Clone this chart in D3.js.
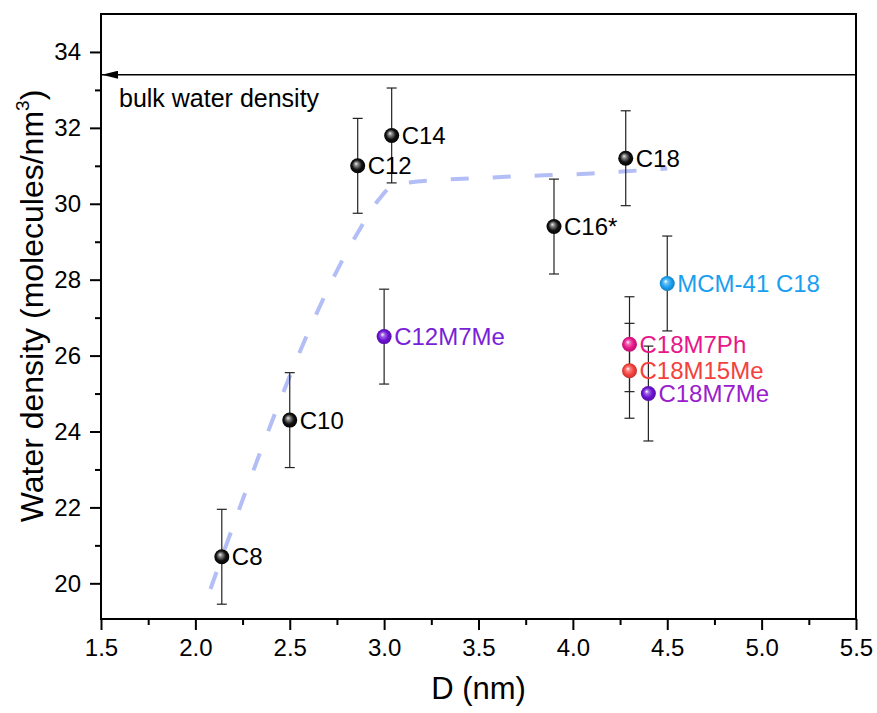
<!DOCTYPE html>
<html>
<head>
<meta charset="utf-8">
<script src="https://cdn.jsdelivr.net/npm/d3@7"></script>
<style>
  html, body { margin: 0; padding: 0; background: #fff; }
  svg { display: block; font-family: "Liberation Sans", Arial, sans-serif; }
</style>
</head>
<body>
<svg id="chart" width="877" height="713"></svg>
<script>
// ---- data ----
const labels   = ["C8", "C10", "C12", "C14", "C16*", "C18", "C12M7Me", "MCM-41 C18", "C18M7Ph", "C18M15Me", "C18M7Me"];
const poreD    = [2.14, 2.50, 2.86, 3.04, 3.90, 4.28, 3.00, 4.50, 4.30, 4.30, 4.40];
const density  = [20.7, 24.3, 31.0, 31.8, 29.4, 31.2, 26.5, 27.9, 26.3, 25.6, 25.0];
const errors   = [1.25, 1.25, 1.25, 1.25, 1.25, 1.25, 1.25, 1.25, 1.25, 1.25, 1.25];
const markerColors = ["#111", "#111", "#111", "#111", "#111", "#111", "#6a12d2", "#1a9ff0", "#e8168a", "#f5413d", "#6a12d2"];
const labelColors  = ["#000", "#000", "#000", "#000", "#000", "#000", "#7a1fd8", "#1a9ff0", "#e8168a", "#f5413d", "#9a20cc"];

const guideD   = [2.08, 2.85, 2.97, 3.06, 3.60, 4.10, 4.50];
const guideRho = [19.85, 29.15, 30.10, 30.52, 30.70, 30.80, 30.93];

const bulkDensity = 33.4;
const xTicks = [1.5, 2.0, 2.5, 3.0, 3.5, 4.0, 4.5, 5.0, 5.5];
const xMinor = [1.75, 2.25, 2.75, 3.25, 3.75, 4.25, 4.75, 5.25];
const yTicks = [20, 22, 24, 26, 28, 30, 32, 34];
const yMinor = [21, 23, 25, 27, 29, 31, 33];

// ---- layout ----
const svg = d3.select("#chart");
const L = 101, R = 856, T = 14, B = 619;
const x = d3.scaleLinear().domain([1.5, 5.5]).range([L, R]);
const y = d3.scaleLinear().domain([19.06, 35]).range([B, T]);

const defs = svg.append("defs");
function sphereGrad(id, base, isBlack) {
  const g = defs.append("radialGradient").attr("id", id)
    .attr("cx", "50%").attr("cy", "50%").attr("r", "55%")
    .attr("fx", "38%").attr("fy", "35%");
  if (isBlack) {
    g.append("stop").attr("offset", "0%").attr("stop-color", "#f0f0f0");
    g.append("stop").attr("offset", "22%").attr("stop-color", "#8a8a8a");
    g.append("stop").attr("offset", "60%").attr("stop-color", "#111");
    g.append("stop").attr("offset", "100%").attr("stop-color", "#000");
  } else {
    const c = d3.color(base);
    g.append("stop").attr("offset", "0%").attr("stop-color", "#ffffff");
    g.append("stop").attr("offset", "25%").attr("stop-color", d3.interpolateRgb(base, "#fff")(0.35));
    g.append("stop").attr("offset", "60%").attr("stop-color", base);
    g.append("stop").attr("offset", "100%").attr("stop-color", c.darker(0.8).formatHex());
  }
}
markerColors.forEach((c, i) => sphereGrad("g" + i, c, c === "#111"));

// arrow marker (tip at line end)
defs.append("marker").attr("id", "arrow")
  .attr("viewBox", "0 0 16 8").attr("refX", 16).attr("refY", 4)
  .attr("markerWidth", 16).attr("markerHeight", 8).attr("markerUnits", "userSpaceOnUse")
  .attr("orient", "auto")
  .append("path").attr("d", "M0,0 L16,4 L0,8 Z").attr("fill", "#000");

// axes (ticks)
const fontTick = "24px";
const xAxis = svg.append("g").attr("transform", `translate(0,${B})`)
  .call(d3.axisBottom(x).tickValues(xTicks).tickFormat(d3.format(".1f")).tickSize(11).tickSizeOuter(0).tickPadding(9));
const xAxisMinor = svg.append("g").attr("transform", `translate(0,${B})`)
  .call(d3.axisBottom(x).tickValues(xMinor).tickFormat("").tickSize(6).tickSizeOuter(0));
const yAxis = svg.append("g").attr("transform", `translate(${L},0)`)
  .call(d3.axisLeft(y).tickValues(yTicks).tickFormat(d3.format("d")).tickSize(11).tickSizeOuter(0).tickPadding(9));
const yAxisMinor = svg.append("g").attr("transform", `translate(${L},0)`)
  .call(d3.axisLeft(y).tickValues(yMinor).tickFormat("").tickSize(6).tickSizeOuter(0));
[xAxis, xAxisMinor, yAxis, yAxisMinor].forEach(a => {
  a.select(".domain").remove();
  a.selectAll("line").attr("stroke", "#000").attr("stroke-width", 2);
  a.selectAll("text").attr("fill", "#000").style("font-size", fontTick)
    .style("font-family", '"Liberation Sans", Arial, sans-serif');
});

// frame
svg.append("rect").attr("x", L).attr("y", T).attr("width", R - L).attr("height", B - T)
  .attr("fill", "none").attr("stroke", "#000").attr("stroke-width", 2);

// bulk water line with arrow
svg.append("line")
  .attr("x1", R).attr("x2", L + 1)
  .attr("y1", y(bulkDensity)).attr("y2", y(bulkDensity))
  .attr("stroke", "#000").attr("stroke-width", 1.3)
  .attr("marker-end", "url(#arrow)");
svg.append("text").attr("x", 119).attr("y", y(bulkDensity) + 32)
  .attr("font-size", "25px").attr("fill", "#000").text("bulk water density");

// dashed guide line
const guidePts = guideD.map((d, i) => [d, guideRho[i]]);
svg.append("path")
  .attr("d", d3.line().x(d => x(d[0])).y(d => y(d[1])).curve(d3.curveMonotoneX)(guidePts))
  .attr("fill", "none").attr("stroke", "#b3bef6").attr("stroke-width", 4)
  .attr("stroke-dasharray", "18,24");

// error bars
const pts = labels.map((l, i) => ({ l, d: poreD[i], v: density[i], e: errors[i], i }));
const eb = svg.append("g").attr("stroke", "#222").attr("stroke-width", 1.2);
pts.forEach(p => {
  eb.append("line").attr("x1", x(p.d)).attr("x2", x(p.d)).attr("y1", y(p.v - p.e)).attr("y2", y(p.v + p.e));
  [p.v - p.e, p.v + p.e].forEach(v => {
    eb.append("line").attr("x1", x(p.d) - 5).attr("x2", x(p.d) + 5).attr("y1", y(v)).attr("y2", y(v));
  });
});

// markers
svg.append("g").selectAll("circle").data(pts).join("circle")
  .attr("cx", p => x(p.d)).attr("cy", p => y(p.v)).attr("r", 7.5)
  .attr("fill", p => `url(#g${p.i})`);

// labels
svg.append("g").selectAll("text").data(pts).join("text")
  .attr("x", p => x(p.d) + 10).attr("y", p => y(p.v))
  .attr("dy", "0.36em")
  .attr("font-size", "24px")
  .attr("fill", p => labelColors[p.i])
  .text(p => p.l);

// axis titles
svg.append("text").attr("x", (L + R) / 2).attr("y", 699)
  .attr("text-anchor", "middle").attr("font-size", "31px").text("D (nm)");
const yt = svg.append("text")
  .attr("transform", `translate(43,306) rotate(-90)`)
  .attr("text-anchor", "middle").attr("font-size", "32px");
yt.append("tspan").text("Water density (molecules/nm");
yt.append("tspan").attr("font-size", "19px").attr("dy", "-14").text("3");
yt.append("tspan").attr("dy", "14").text(")");
</script>
</body>
</html>
